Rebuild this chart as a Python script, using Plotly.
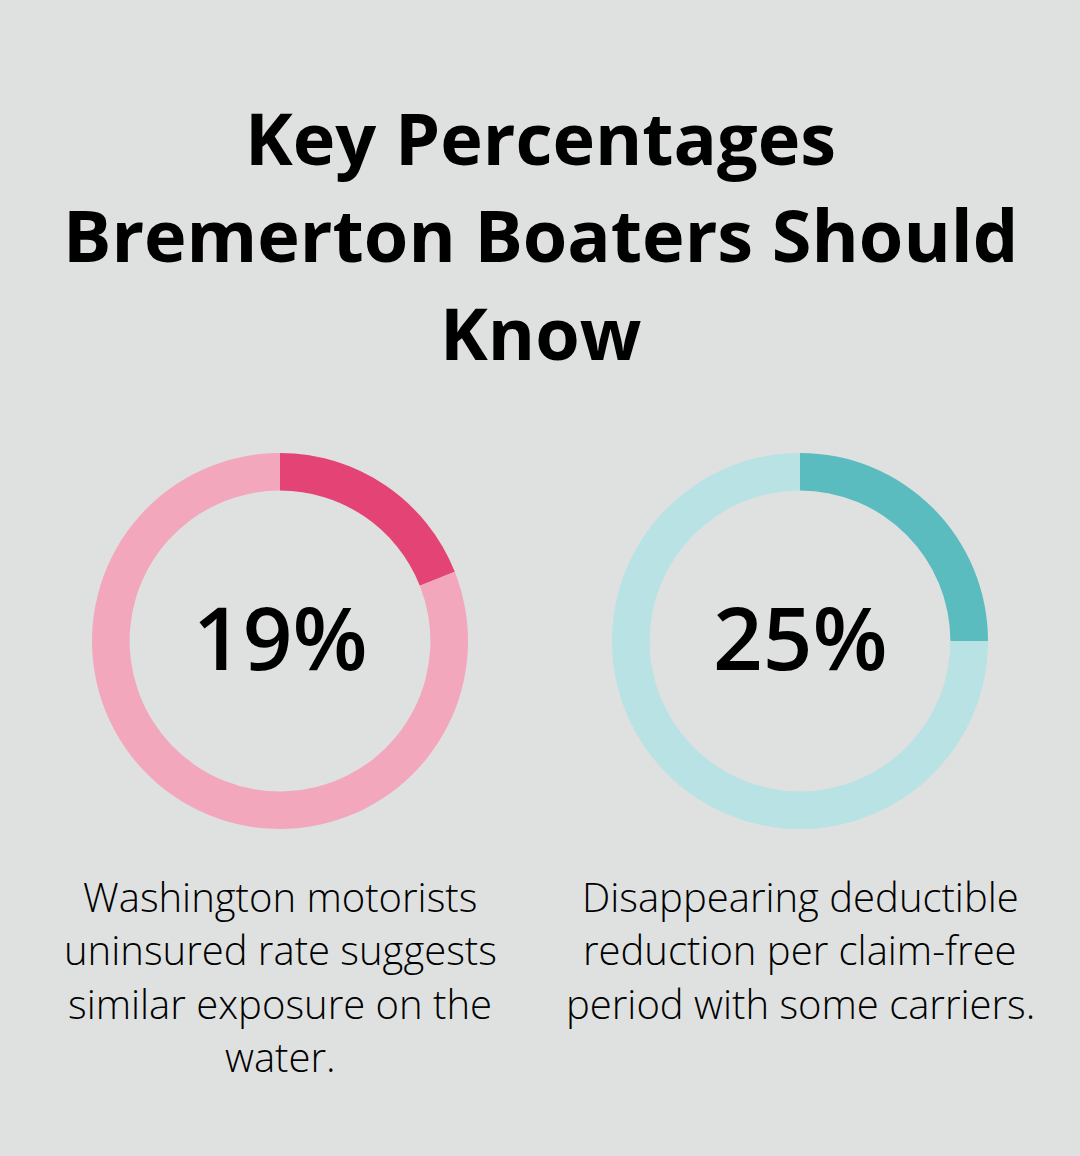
import plotly.graph_objects as go

W, H = 1080, 1156

title_lines = ["Key Percentages", "Bremerton Boaters Should", "Know"]
percent_values = [19, 25]
percent_labels = ["19%", "25%"]
caption_lines = [
    ["Washington motorists", "uninsured rate suggests", "similar exposure on the", "water."],
    ["Disappearing deductible", "reduction per claim-free", "period with some carriers."],
]
dark_colors = ["#e44475", "#5abcbf"]
light_colors = ["#f2a7bd", "#b8e2e4"]

centers_x = [280, 800]
center_y = 641
outer_r = 188

fig = go.Figure()
for i, v in enumerate(percent_values):
    cx = centers_x[i]
    fig.add_trace(go.Pie(
        values=[v, 100 - v],
        labels=["part", "rest"],
        marker=dict(colors=[dark_colors[i], light_colors[i]], line=dict(width=0)),
        hole=0.8,
        sort=False,
        direction="clockwise",
        rotation=0,
        textinfo="none",
        hoverinfo="skip",
        showlegend=False,
        domain=dict(x=[(cx - outer_r) / W, (cx + outer_r) / W],
                    y=[1 - (center_y + outer_r) / H, 1 - (center_y - outer_r) / H]),
    ))

annotations = []
title_y = [137, 234, 332]
for line, py in zip(title_lines, title_y):
    annotations.append(dict(text=line, x=540 / W, y=1 - py / H, xref="paper", yref="paper",
                            xanchor="center", yanchor="middle", showarrow=False,
                            font=dict(family="Open Sans", size=72, color="#000000", weight=700)))
for i, lab in enumerate(percent_labels):
    annotations.append(dict(text=lab, x=centers_x[i] / W, y=1 - 636 / H, xref="paper", yref="paper",
                            xanchor="center", yanchor="middle", showarrow=False,
                            font=dict(family="Open Sans", size=87, color="#000000", weight=600)))
cap_y = [896, 949, 1003, 1056]
for i, lines in enumerate(caption_lines):
    for line, py in zip(lines, cap_y):
        annotations.append(dict(text=line, x=centers_x[i] / W, y=1 - py / H, xref="paper", yref="paper",
                                xanchor="center", yanchor="middle", showarrow=False,
                                font=dict(family="Open Sans", size=40, color="#000000", weight=300)))

fig.update_layout(
    width=W, height=H,
    margin=dict(l=0, r=0, t=0, b=0),
    paper_bgcolor="#dfe1e0",
    plot_bgcolor="#dfe1e0",
    annotations=annotations,
)

fig.write_html("out.html")
